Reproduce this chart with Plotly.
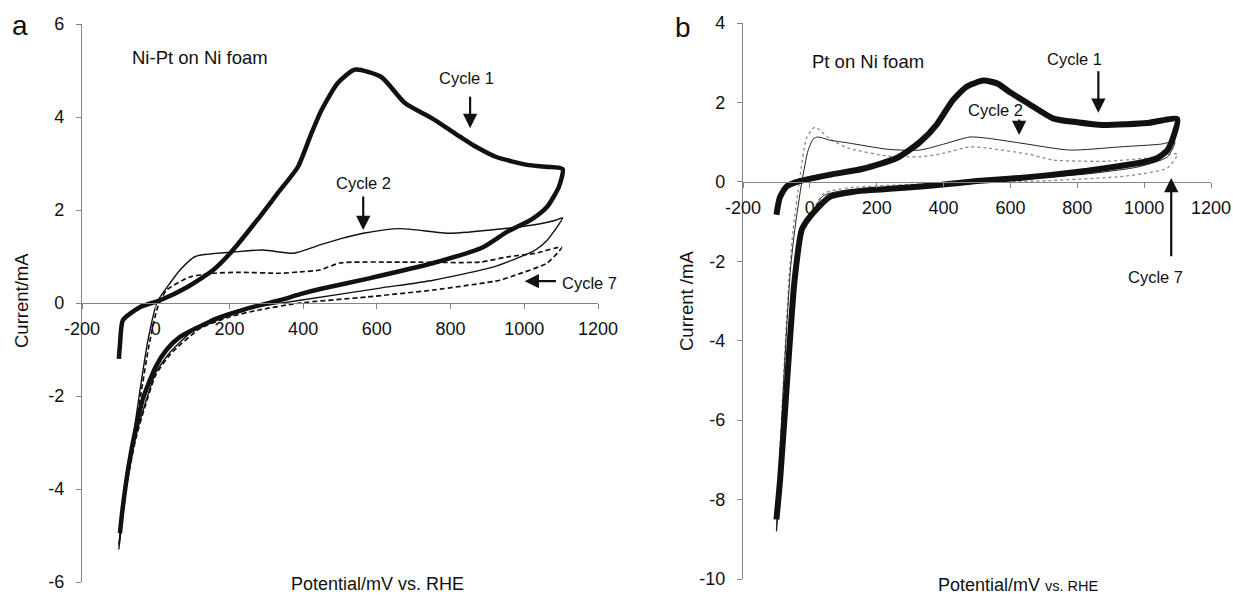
import plotly.graph_objects as go

# ---------------- Panel a: Ni-Pt on Ni foam (potential mV vs RHE, current mA) ----------------
a_c1_x = [-100, -97, -89, -43, 12, 85, 156, 202, 275, 330, 386, 420, 450, 494, 541, 612, 676, 750, 827, 869, 924, 1008, 1060, 1104,
          1094, 1062, 1020, 953, 888, 753, 573, 446, 392, 337, 248, 156, 66, 30, 0, -33, -55, -74, -91, -97]
a_c1_y = [-1.2, -0.9, -0.37, -0.09, 0.06, 0.34, 0.71, 1.07, 1.78, 2.35, 2.93, 3.6, 4.15, 4.73, 5.02, 4.86, 4.3, 3.97, 3.57, 3.36, 3.14, 2.97, 2.93, 2.88,
          2.5, 2.07, 1.8, 1.53, 1.2, 0.86, 0.52, 0.3, 0.19, 0.06, -0.12, -0.37, -0.73, -1.0, -1.37, -2.02, -2.73, -3.53, -4.5, -4.95]

a_c2_x = [-100, -90, -65, -45, -21, 4, 39, 66, 107, 202, 291, 373, 446, 500, 563, 663, 799, 934, 1040, 1085, 1104,
          1062, 1030, 976, 915, 753, 609, 392, 300, 225, 150, 100, 40, 0, -30, -55, -75, -90, -100]
a_c2_y = [-5.3, -4.5, -3.1, -2.0, -0.8, 0.02, 0.43, 0.71, 1.0, 1.09, 1.14, 1.07, 1.25, 1.38, 1.5, 1.6, 1.5, 1.59, 1.7, 1.78, 1.83,
          1.35, 1.14, 0.95, 0.77, 0.49, 0.32, 0.06, -0.05, -0.15, -0.35, -0.6, -1.05, -1.5, -2.2, -2.9, -3.7, -4.6, -5.3]

a_c7_x = [-100, -88, -62, -40, -18, 5, 30, 93, 156, 228, 337, 392, 446, 500, 663, 880, 953, 1030, 1101,
          1062, 976, 934, 753, 573, 392, 280, 200, 120, 40, 0, -30, -55, -75, -90, -100]
a_c7_y = [-5.2, -4.4, -3.0, -1.95, -0.9, -0.1, 0.28, 0.56, 0.64, 0.66, 0.64, 0.67, 0.71, 0.86, 0.88, 0.88, 0.99, 1.07, 1.2,
          0.86, 0.6, 0.49, 0.28, 0.13, 0.0, -0.15, -0.3, -0.55, -1.1, -1.55, -2.25, -2.95, -3.75, -4.6, -5.2]

# ---------------- Panel b: Pt on Ni foam ----------------
b_c1_x = [-100, -90, -70, -39, 60, 159, 260, 329, 380, 428, 470, 519, 560, 600, 652, 727, 800, 876, 950, 1009, 1099,
          1090, 1070, 1040, 1000, 927, 830, 728, 628, 500, 420, 359, 250, 159, 60, 0, -24, -46, -68, -89, -100]
b_c1_y = [-0.83, -0.4, -0.12, 0.0, 0.18, 0.33, 0.6, 1.0, 1.45, 2.06, 2.4, 2.55, 2.48, 2.25, 1.98, 1.6, 1.5, 1.43, 1.45, 1.48, 1.58,
          1.2, 0.8, 0.6, 0.5, 0.4, 0.28, 0.18, 0.1, 0.02, -0.05, -0.1, -0.17, -0.22, -0.38, -0.88, -1.2, -2.5, -5.0, -7.5, -8.5]

b_c2_x = [-100, -90, -75, -58, -45, -24, -5, 10, 24, 60, 115, 233, 329, 400, 479, 530, 628, 778, 927, 1050, 1092,
          1070, 984, 830, 712, 591, 473, 355, 233, 115, 40, 0, -24, -46, -68, -89, -100]
b_c2_y = [-8.8, -7.0, -4.5, -2.2, -1.2, 0.0, 0.8, 1.08, 1.13, 1.05, 0.98, 0.82, 0.8, 0.95, 1.13, 1.1, 0.98, 0.8, 0.88, 0.95, 1.01,
          0.63, 0.38, 0.2, 0.12, 0.06, 0.0, -0.1, -0.15, -0.2, -0.35, -0.9, -1.3, -2.6, -5.1, -7.6, -8.8]

b_c7_x = [-100, -92, -78, -62, -50, -30, -10, 15, 60, 115, 233, 329, 400, 479, 530, 652, 727, 891, 1009, 1099,
          1070, 949, 712, 355, 115, 40, 0, -24, -46, -68, -89, -100]
b_c7_y = [-8.8, -7.2, -4.8, -2.4, -1.2, 0.1, 1.1, 1.38, 1.08, 0.85, 0.65, 0.63, 0.72, 0.88, 0.85, 0.7, 0.55, 0.52, 0.6, 0.7,
          0.35, 0.15, 0.03, -0.05, -0.15, -0.3, -0.9, -1.3, -2.6, -5.1, -7.6, -8.8]

x_ticks = [-200, 0, 200, 400, 600, 800, 1000, 1200]
a_y_ticks = [-6, -4, -2, 0, 2, 4, 6]
b_y_ticks = [-10, -8, -6, -4, -2, 0, 2, 4]

W, H = 1233, 596
FONT = "Liberation Sans, Arial, sans-serif"
AX = "#858585"
INK = "#111111"

fig = go.Figure()
SM = 0.6
fig.add_trace(go.Scatter(x=a_c2_x, y=a_c2_y, mode="lines", line=dict(color=INK, width=1.4, shape="spline", smoothing=SM), xaxis="x", yaxis="y"))
fig.add_trace(go.Scatter(x=a_c7_x, y=a_c7_y, mode="lines", line=dict(color=INK, width=1.7, dash="5px,3px", shape="spline", smoothing=SM), xaxis="x", yaxis="y"))
fig.add_trace(go.Scatter(x=a_c1_x, y=a_c1_y, mode="lines", line=dict(color=INK, width=4.5, shape="spline", smoothing=SM), xaxis="x", yaxis="y"))

fig.add_trace(go.Scatter(x=b_c7_x, y=b_c7_y, mode="lines", line=dict(color="#8a8a8a", width=1.3, dash="dot", shape="spline", smoothing=SM), xaxis="x2", yaxis="y2"))
fig.add_trace(go.Scatter(x=b_c2_x, y=b_c2_y, mode="lines", line=dict(color="#222222", width=1.0, shape="spline", smoothing=SM), xaxis="x2", yaxis="y2"))
fig.add_trace(go.Scatter(x=b_c1_x, y=b_c1_y, mode="lines", line=dict(color=INK, width=6, shape="spline", smoothing=SM), xaxis="x2", yaxis="y2"))

# domains (pixels -> paper)
xa_dom = [82 / W, 598 / W]
xb_dom = [743 / W, 1211 / W]
ya_dom = [1 - 582 / H, 1 - 24 / H]
yb_dom = [1 - 579 / H, 1 - 23 / H]
pos_a = ya_dom[0] + (0 - (-6)) / 12 * (ya_dom[1] - ya_dom[0])
pos_b = yb_dom[0] + (0 - (-10)) / 14 * (yb_dom[1] - yb_dom[0])

tickfont = dict(family=FONT, size=18, color=INK)
common_x = dict(range=[-200, 1200], tickvals=x_ticks, ticktext=[str(v) for v in x_ticks],
                showgrid=False, zeroline=False, showline=True,
                linecolor=AX, linewidth=1.4, ticks="outside", ticklen=5, tickcolor=AX, tickfont=tickfont,
                automargin=False, anchor="free", ticklabelstandoff=4)
common_y = dict(showgrid=False, zeroline=False, showline=True, linecolor=AX, linewidth=1.4,
                ticks="outside", ticklen=5, tickcolor=AX, tickfont=tickfont, automargin=False,
                ticklabelstandoff=8)

fig.update_layout(
    width=W, height=H,
    margin=dict(l=0, r=0, t=0, b=0),
    paper_bgcolor="white", plot_bgcolor="white",
    showlegend=False,
    font=dict(family=FONT, color=INK),
    xaxis=dict(domain=xa_dom, position=pos_a, **common_x),
    yaxis=dict(domain=ya_dom, range=[-6, 6], tickvals=a_y_ticks, ticktext=[str(v) for v in a_y_ticks], anchor="x", **common_y),
    xaxis2=dict(domain=xb_dom, position=pos_b, **common_x),
    yaxis2=dict(domain=yb_dom, range=[-10, 4], tickvals=b_y_ticks, ticktext=[str(v) for v in b_y_ticks], anchor="x2", **common_y),
)

ann = []
def arrow(xr, yr, x0, y0, x1, y1):
    ann.append(dict(xref=xr, yref=yr, axref=xr, ayref=yr, x=x1, y=y1, ax=x0, ay=y0, text="",
                    showarrow=True, arrowhead=2, arrowsize=1.3, arrowwidth=2.2, arrowcolor=INK))
def label(xr, yr, x, y, text, size=16.5, xanchor="center"):
    ann.append(dict(xref=xr, yref=yr, x=x, y=y, text=text, showarrow=False, xanchor=xanchor, yanchor="middle",
                    font=dict(family=FONT, size=size, color=INK)))

# panel a
label("x", "y", -71, 5.27, "Ni-Pt on Ni foam", size=18.5, xanchor="left")
label("x", "y", 842, 4.84, "Cycle 1")
arrow("x", "y", 853, 4.47, 853, 3.76)
label("x", "y", 563, 2.58, "Cycle 2")
arrow("x", "y", 563, 2.32, 563, 1.57)
label("x", "y", 1097, 0.43, "Cycle 7", xanchor="left")
arrow("x", "y", 1090, 0.47, 1001, 0.47)

# panel b
label("x2", "y2", 0, 3.02, "Pt on Ni foam", size=18.5, xanchor="left")
label("x2", "y2", 791, 3.09, "Cycle 1")
arrow("x2", "y2", 863, 2.82, 863, 1.74)
label("x2", "y2", 555, 1.81, "Cycle 2")
arrow("x2", "y2", 626, 1.61, 626, 1.18)
label("x2", "y2", 1034, -2.39, "Cycle 7")
arrow("x2", "y2", 1081, -1.91, 1081, 0.1)

# panel letters
ann.append(dict(xref="paper", yref="paper", x=20 / W, y=1 - 26 / H, text="a", showarrow=False,
                xanchor="center", yanchor="middle", font=dict(family=FONT, size=28, color=INK)))
ann.append(dict(xref="paper", yref="paper", x=683 / W, y=1 - 27 / H, text="b", showarrow=False,
                xanchor="center", yanchor="middle", font=dict(family=FONT, size=28, color=INK)))

# axis titles
ann.append(dict(xref="paper", yref="paper", x=21 / W, y=1 - 301 / H, text="Current/mA", textangle=-90,
                showarrow=False, xanchor="center", yanchor="middle", font=dict(family=FONT, size=18.5, color=INK)))
ann.append(dict(xref="paper", yref="paper", x=686 / W, y=1 - 301 / H, text="Current /mA", textangle=-90,
                showarrow=False, xanchor="center", yanchor="middle", font=dict(family=FONT, size=18.5, color=INK)))
ann.append(dict(xref="paper", yref="paper", x=377 / W, y=1 - 584 / H, text="Potential/mV vs. RHE",
                showarrow=False, xanchor="center", yanchor="middle", font=dict(family=FONT, size=18, color=INK)))
ann.append(dict(xref="paper", yref="paper", x=1019 / W, y=1 - 585 / H,
                text="Potential/mV <span style='font-size:14.5px'>vs. RHE</span>",
                showarrow=False, xanchor="center", yanchor="middle", font=dict(family=FONT, size=18, color=INK)))

fig.update_layout(annotations=ann)
fig.write_html("out.html")
